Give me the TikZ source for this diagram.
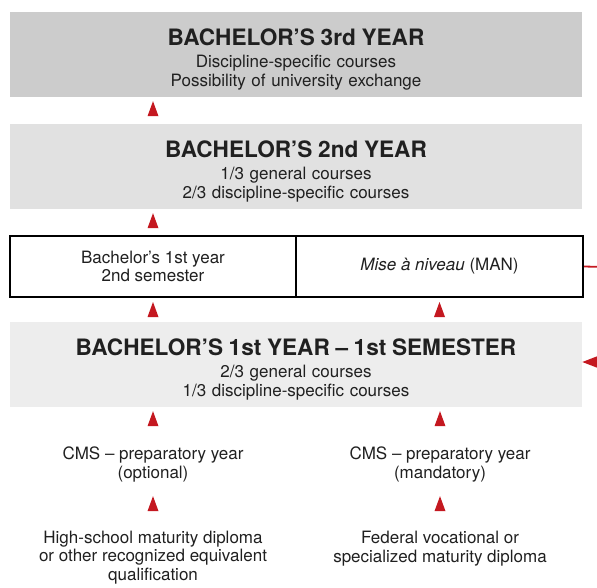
\documentclass[tikz,border=0pt]{standalone}
\usepackage{fontspec}
\setmainfont{TeX Gyre Heros}
\usetikzlibrary{decorations.markings, arrows.meta}

\definecolor{markred}{RGB}{196,24,32}
\definecolor{yearthree}{RGB}{204,204,204}
\definecolor{yeartwo}{RGB}{225,225,225}
\definecolor{yearone}{RGB}{237,237,237}
\definecolor{inktext}{RGB}{32,32,32}

\newcommand{\bodyfont}{\fontsize{17}{18.5}\selectfont}
\newcommand{\yeartitle}[1]{{\fontsize{22.6}{23}\selectfont\bfseries\rule{0pt}{26pt}#1}\\[4pt]}

\tikzset{
  yearbox/.style={minimum width=572pt, minimum height=85pt, inner sep=0pt,
    text width=560pt, align=center, text=inktext, font=\bodyfont},
  cellbox/.style={draw=black, line width=2pt, fill=white, minimum height=61pt,
    inner sep=0pt, align=center, text=inktext, font=\bodyfont},
  plaintext/.style={inner sep=0pt, align=center, text=inktext, font=\bodyfont},
  uptri/.style={postaction={decorate, decoration={markings,
    mark=at position -#1 with {\fill[markred] (0,0) -- (-15pt,5.5pt) -- (-15pt,-5.5pt) -- cycle;}}}},
  uptri/.default=4pt,
  loopline/.style={markred, line width=1.8pt}
}

\begin{document}
\begin{tikzpicture}[x=1pt, y=-1pt]
  \path[use as bounding box, clip] (0,0) rectangle (597,587);

  % the three years
  \node[yearbox, fill=yearthree] (y3) at (296,54.5)
    {\yeartitle{BACHELOR’S 3rd YEAR}Discipline-specific courses\\Possibility of university exchange};
  \node[yearbox, fill=yeartwo] (y2) at (296,166.5)
    {\yeartitle{BACHELOR’S 2nd YEAR}1/3 general courses\\2/3 discipline-specific courses};
  \node[cellbox, minimum width=286pt] (sem2) at (153,266.5) {Bachelor’s 1st year\\2nd semester};
  \node[cellbox, minimum width=287pt] (man) at (439.5,266.5) {\textit{Mise à niveau} (MAN)};
  \node[yearbox, fill=yearone] (y1) at (296,364.5)
    {\yeartitle{BACHELOR’S 1st YEAR -- 1st SEMESTER}2/3 general courses\\1/3 discipline-specific courses};

  % entry routes
  \node[plaintext] (cmsopt) at (153,464.5) {CMS -- preparatory year\\(optional)};
  \node[plaintext] (cmsman) at (440,464.5) {CMS -- preparatory year\\(mandatory)};
  \node[plaintext] (hs) at (153,557.5) {High-school maturity diploma\\or other recognized equivalent\\qualification};
  \node[plaintext] (fed) at (440,548.5) {Federal vocational or\\specialized maturity diploma};

  \path[uptri] (y2.north -| sem2) -- (y3.south -| sem2);
  \path[uptri] (sem2.north) -- (y2.south -| sem2);
  \foreach \upper/\middle/\lower in {sem2/cmsopt/hs, man/cmsman/fed} {
    \path[uptri] (y1.north -| \upper) -- (\upper.south);
    \path[uptri] (\middle.north) -- (y1.south -| \middle);
    \path[uptri=14pt] (\lower.north) -- (\middle.south);
  }

  % loop back from MAN
  \coordinate (loopout) at (605,267);
  \coordinate (loopin) at (605,362);
  \draw[loopline] (man.east) -- (loopout);
  \draw[loopline, -{Triangle[width=11pt,length=15pt]}] (loopin) -- (y1.east |- loopin);
\end{tikzpicture}
\end{document}
